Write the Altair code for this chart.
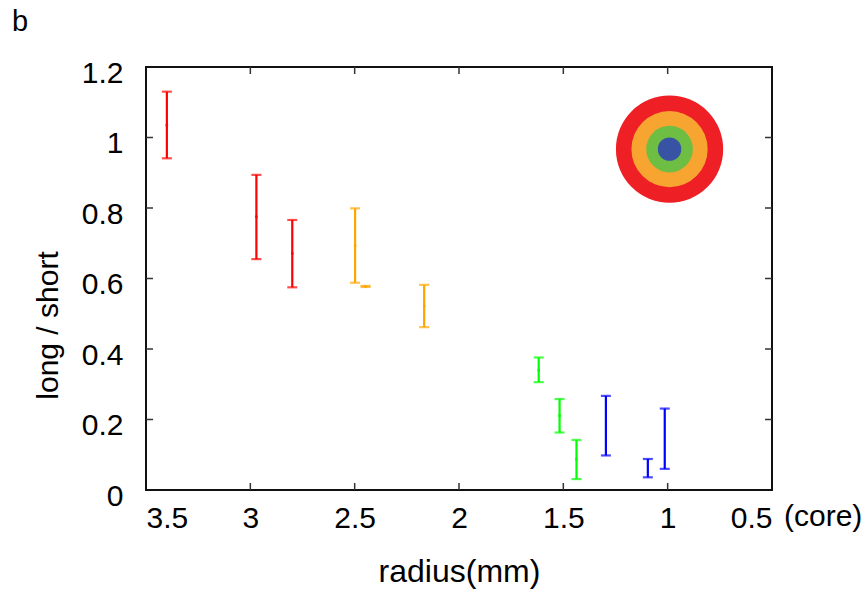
import altair as alt
import pandas as pd

FONT = "Liberation Sans"

# ---- data ----
radius = [3.40, 2.971, 2.799, 2.498, 2.448, 2.167, 1.618, 1.518, 1.437, 1.296, 1.095, 1.014]
lower = [0.941, 0.655, 0.575, 0.588, 0.576, 0.462, 0.306, 0.163, 0.031, 0.098, 0.036, 0.060]
upper = [1.130, 0.894, 0.766, 0.799, 0.579, 0.582, 0.376, 0.258, 0.142, 0.267, 0.088, 0.231]
center = [1.035, 0.775, 0.671, 0.693, 0.577, 0.522, 0.340, 0.211, 0.087]
zone = ["outer"] * 3 + ["middle"] * 3 + ["inner"] * 3 + ["core"] * 3

zone_names = ["outer", "middle", "inner", "core"]
zone_colors = ["#ff0000", "#ffa500", "#00ff00", "#0000ff"]

x_ticks = [3.5, 3, 2.5, 2, 1.5, 1, 0.5]
x_inner_ticks = [3, 2.5, 2, 1.5, 1]
y_ticks = [0, 0.2, 0.4, 0.6, 0.8, 1.0, 1.2]
y_inner_ticks = [0.2, 0.4, 0.6, 0.8, 1.0]

# inset target diagram (position in data units, radius in px)
ring_names = ["r_outer", "r_middle", "r_inner", "r_core"]
ring_colors = ["#ee1f25", "#f7a431", "#6ebe44", "#3953a4"]
ring_radius_px = [60.5, 43.0, 26.3, 13.2]
ring_cx = 0.991
ring_cy = 0.967

W, H = 626, 423

xs = alt.Scale(domain=[0.5, 3.5], reverse=True, nice=False, zero=False)
ys = alt.Scale(domain=[0, 1.2], nice=False, zero=False)

df = pd.DataFrame({"radius": radius, "lower": lower, "upper": upper, "zone": zone})
dc = pd.DataFrame({"radius": radius[:9], "center": center, "zone": zone[:9]})

zcolor = alt.Color("zone:N", scale=alt.Scale(domain=zone_names, range=zone_colors), legend=None)

x_axis = alt.Axis(values=x_ticks, labelExpr="'' + datum.value", labelFlush=True,
                  labelPadding=13, labelFontSize=30, labelFont=FONT, labelColor="#000",
                  title="radius(mm)", titleFontSize=32, titleFont=FONT, titleFontWeight="normal",
                  titleColor="#000", titleY=91, titleBaseline="alphabetic",
                  ticks=False, tickSize=0, domain=False, grid=False)
y_axis = alt.Axis(values=y_ticks, labelExpr="'' + datum.value", labelPadding=23,
                  labelFontSize=30, labelFont=FONT, labelColor="#000", labelOffset=6,
                  title="long / short", titleFontSize=30, titleFont=FONT, titleFontWeight="normal",
                  titleColor="#000", titleX=-89, titleY=258, titleAngle=270,
                  titleBaseline="alphabetic", titleAlign="center",
                  ticks=False, tickSize=0, domain=False, grid=False)


def X(field):
    return alt.X(field, scale=xs, axis=x_axis)


def Y(field):
    return alt.Y(field, scale=ys, axis=y_axis)


bars = alt.Chart(df).mark_rule(strokeWidth=2.2).encode(
    x=X("radius:Q"), y=Y("lower:Q"), y2="upper:Q", color=zcolor,
)
cap_lo = alt.Chart(df).mark_tick(orient="horizontal", size=10, thickness=2.2).encode(
    x=X("radius:Q"), y=Y("lower:Q"), color=zcolor,
)
cap_hi = alt.Chart(df).mark_tick(orient="horizontal", size=10, thickness=2.2).encode(
    x=X("radius:Q"), y=Y("upper:Q"), color=zcolor,
)
dots = alt.Chart(dc).mark_square(size=6, opacity=1).encode(
    x=X("radius:Q"), y=Y("center:Q"), color=zcolor,
)

# inward ticks on all four sides
tick_style = dict(color="#333", strokeWidth=1.5)
tx = pd.DataFrame({"radius": x_inner_ticks})
ty = pd.DataFrame({"v": y_inner_ticks})
tick_bottom = alt.Chart(tx).mark_rule(**tick_style).encode(
    x=X("radius:Q"), y=alt.value(H), y2=alt.value(H - 7))
tick_top = alt.Chart(tx).mark_rule(**tick_style).encode(
    x=X("radius:Q"), y=alt.value(0), y2=alt.value(7))
tick_left = alt.Chart(ty).mark_rule(**tick_style).encode(
    y=Y("v:Q"), x=alt.value(0), x2=alt.value(7))
tick_right = alt.Chart(ty).mark_rule(**tick_style).encode(
    y=Y("v:Q"), x=alt.value(W), x2=alt.value(W - 7))

rings_df = pd.DataFrame({
    "ring": ring_names,
    "cx": [ring_cx] * 4,
    "cy": [ring_cy] * 4,
    "area": [3.14159 * r * r for r in ring_radius_px],
    "order": [0, 1, 2, 3],
})
rings = alt.Chart(rings_df).mark_circle(opacity=1).encode(
    x=X("cx:Q"),
    y=Y("cy:Q"),
    size=alt.Size("area:Q", scale=None, legend=None),
    color=alt.Color("ring:N", scale=alt.Scale(domain=ring_names, range=ring_colors), legend=None),
    order=alt.Order("order:Q"),
)

core_note = alt.Chart(pd.DataFrame({"radius": [0.5], "v": [0.0], "note": ["(core)"]})).mark_text(
    align="left", baseline="alphabetic", dx=12, dy=36, fontSize=30, font=FONT, color="#000"
).encode(
    x=X("radius:Q"),
    y=Y("v:Q"),
    text="note:N",
)

chart = alt.layer(
    bars, cap_lo, cap_hi, dots, rings, tick_bottom, tick_top, tick_left, tick_right, core_note
).resolve_scale(color="independent").properties(
    width=W, height=H,
    autosize=alt.AutoSizeParams(type="none"),
    padding={"left": 146, "top": 67, "right": 96, "bottom": 99},
    title=alt.TitleParams("b", anchor="start", frame="group", dx=-134, dy=-17, fontSize=29,
                          fontWeight="normal", font=FONT, color="#000"),
).configure_view(stroke="#111", strokeWidth=2)

chart.save("out.html", embed_options={"renderer": "svg", "actions": False})
